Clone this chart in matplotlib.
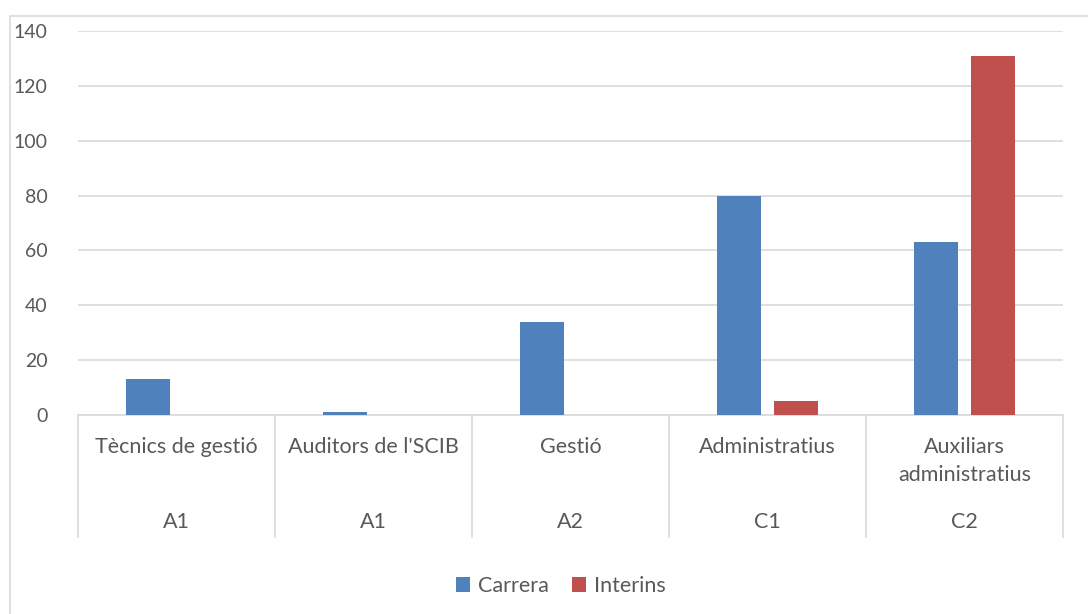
import matplotlib
matplotlib.use("Agg")
import matplotlib.pyplot as plt
from matplotlib.patches import Rectangle, Patch
from matplotlib.lines import Line2D
import numpy as np

categories = ["Tècnics de gestió", "Auditors de l'SCIB", "Gestió", "Administratius", "Auxiliars\nadministratius"]
groups = ["A1", "A1", "A2", "C1", "C2"]
carrera = [13, 1, 34, 80, 63]
interins = [0, 0, 0, 5, 131]
series_names = ["Carrera", "Interins"]
colors = ["#4F81BD", "#C0504D"]

W, H = 1088, 614
fig = plt.figure(figsize=(W/100, H/100), dpi=100)
plt.rcParams['font.family'] = ['Lato', 'DejaVu Sans']
txt = "#595959"
grid = "#D9D9D9"
fs = 15.5

x0, x1, yb, yt = 78, 1063, 415, 31
ax = fig.add_axes([x0/W, (H-yb)/H, (x1-x0)/W, (yb-yt)/H])

x = np.arange(len(categories))
bw = 0.223
off = 0.147
ax.bar(x - off, carrera, width=bw, color=colors[0], zorder=3)
ax.bar(x + off, interins, width=bw, color=colors[1], zorder=3)

ax.set_xlim(-0.5, len(categories) - 0.5)
ax.set_ylim(0, 140)
ax.set_yticks(range(0, 141, 20))
ax.yaxis.grid(True, color=grid, linewidth=1.2, zorder=0)
ax.tick_params(axis='y', length=0, pad=22, labelsize=14, labelcolor=txt)
ax.tick_params(axis='x', length=0, labelbottom=False)
for s in ['top', 'right', 'left']:
    ax.spines[s].set_visible(False)
ax.spines['bottom'].set_color(grid)
ax.spines['bottom'].set_linewidth(1.2)

ph = yb - yt
def af(ypix):
    return (yb - ypix) / ph

# category separators
for b in np.arange(-0.5, len(categories), 1.0):
    ax.add_line(Line2D([b, b], [0, af(537)], transform=ax.get_xaxis_transform(),
                       color=grid, linewidth=1.2, clip_on=False))

for i, (c, g) in enumerate(zip(categories, groups)):
    ax.text(i, af(437), c, transform=ax.get_xaxis_transform(), ha='center', va='top',
            fontsize=fs, color=txt, linespacing=1.5)
    ax.text(i, af(522), g, transform=ax.get_xaxis_transform(), ha='center', va='center',
            fontsize=fs, color=txt)

# outer chart border
fig.patches.append(Rectangle((10/W, -0.1), 1.2, (H-16)/H + 0.1, transform=fig.transFigure,
                             fill=False, edgecolor=grid, linewidth=1.2))

handles = [Patch(facecolor=colors[0]), Patch(facecolor=colors[1])]
fig.legend(handles, series_names, loc='center', bbox_to_anchor=(561/W, (H-586)/H),
           ncol=2, frameon=False, fontsize=fs, labelcolor=txt,
           handlelength=0.65, handleheight=0.65, handletextpad=0.35, columnspacing=1.1)

fig.savefig("out.png", dpi=100)
